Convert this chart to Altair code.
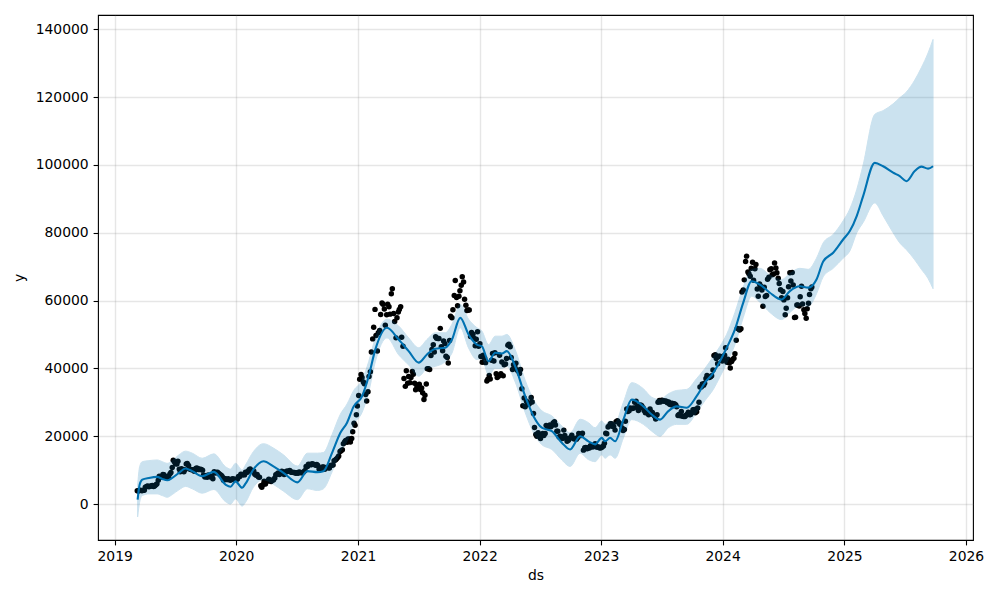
import altair as alt
import pandas as pd

OBS_2019_START = "2019-03-10"
OBS_2019 = [3900, 4000, 3950, 4100, 5200, 5100, 5300, 5200, 5700, 7000, 8000, 8700,
            8100, 7700, 8900, 10800, 12400, 11800, 10300, 10400, 9500, 11800, 11400, 10200,
            10100, 10400, 10500, 10300, 10000, 8000, 7900, 8300, 8200, 9500, 9300, 9000,
            8500, 7000, 7400, 7500, 7000, 7500, 7300]
OBS_2019_MID_START = "2019-03-13"
OBS_2019_MID = [3870, 4050, 4030, 4950, 5300, 5250, 5450, 5350, 5950, 8200, 7950, 8650,
                7800, 8200, 9300, 12900, 11900, 12600, 9500, 9800, 10100, 11950, 10300, 10100,
                9700, 10600, 10150, 10200, 8550, 8350, 8600, 8000, 7450, 9150, 9350, 8750,
                8100, 7550, 7200, 7200, 7300, 7250, 7200]

OBS_2020_START = "2020-01-05"
OBS_2020 = [7400, 8100, 8700, 8600, 9300, 10100, 9900, 9700, 8500, 8000, 5400, 5800,
            5900, 6800, 6900, 7100, 7700, 8900, 8700, 9700, 8700, 9700, 9700, 9400,
            9300, 9100, 9100, 9300, 9200, 9900, 11100, 11700, 11900, 11700, 11700, 10300,
            10300, 10900, 10700, 10700, 11400, 11500, 13000, 13700, 15500, 16000, 18400, 18200,
            19200, 19300, 23800, 26300]
OBS_2020_MID_START = "2020-01-08"
OBS_2020_MID = [8100, 8800, 8650, 9400, 9600, 10350, 9600, 8800, 8750, 7900, 4950, 6700,
                6650, 7300, 6650, 7100, 8650, 9150, 9300, 9500, 9200, 9650, 9900, 9400,
                9300, 9230, 9430, 9200, 9550, 11100, 11750, 11550, 11750, 11450, 11400, 10250,
                10950, 10250, 10780, 10600, 11430, 12800, 13270, 14150, 15700, 17800, 18750, 19200,
                18300, 21300, 23240, 28900]

OBS_2021_START = "2021-01-03"
OBS_2021 = [32000, 38200, 36000, 32300, 33100, 39000, 48700, 57400, 45100, 51200, 59300, 57500,
            55800, 58200, 62000, 56200, 49000, 56600, 58200, 46500, 34700, 35600, 35800, 39100,
            35600, 34600, 35300, 34200, 30800, 35400, 39900, 43800, 47000, 49300, 48800, 51800,
            45200, 47300, 43200, 48200, 54900, 61500, 60900, 61300, 64500, 65500, 58600, 57200,
            49400, 50100, 46700, 50800]
OBS_2021_MID_START = "2021-01-06"
OBS_2021_MID = [36800, 37300, 35500, 30400, 37600, 44800, 52100, 49700, 50500, 55900, 58900, 52700,
                58900, 56000, 63500, 53800, 54900, 57400, 49200, 37000, 39300, 37600, 37300, 38300,
                33700, 35000, 33800, 32800, 32100, 39900, 39700, 45600, 44800, 48900, 48800, 46400,
                48100, 43600, 41600, 55400, 57300, 65900, 58500, 62900, 67000, 60400, 57100, 57200,
                50600, 48900, 48600, 46500]

OBS_2022_START = "2022-01-02"
OBS_2022 = [47300, 41800, 43100, 36300, 37900, 42400, 42200, 38400, 37700, 38400, 37800, 41300,
            46800, 46400, 39700, 40400, 39500, 38500, 34000, 31300, 30300, 29400, 31400, 26700,
            20500, 21000, 19300, 20800, 20800, 22600, 23300, 23200, 24300, 21500, 19800, 19800,
            21800, 19400, 18800, 19600, 19400, 19300, 19600, 20600, 20900, 16600, 16300, 16500,
            17100, 17100, 16800, 16800]
OBS_2022_MID_START = "2022-01-05"
OBS_2022_MID = [43500, 43900, 41700, 36800, 36900, 44400, 44600, 37300, 43900, 41900, 41100, 42900,
                47100, 43200, 41100, 41500, 39200, 39700, 29000, 28700, 29600, 29800, 30100, 22600,
                20000, 20100, 20500, 20200, 23200, 22900, 22800, 23900, 23300, 21500, 20000, 19300,
                20200, 18500, 19400, 20300, 19200, 19100, 20800, 20200, 15900, 16700, 16600, 17200,
                16800, 17800, 16800, 16500]

OBS_2023_START = "2023-01-01"
OBS_2023 = [16600, 17100, 20900, 22700, 23700, 22900, 21800, 24600, 23500, 22400, 22000, 28000,
            27500, 28200, 28300, 30300, 27600, 29200, 28400, 26900, 26800, 28000, 27000, 25900,
            26300, 30500, 30600, 30300, 30300, 30100, 29300, 29100, 29300, 26100, 26000, 25900,
            25800, 26500, 26300, 27000, 27900, 27200, 30000, 34500, 35000, 37000, 37400, 37500,
            39500, 44000, 41400, 43600, 42200]
OBS_2023_MID_START = "2023-01-04"
OBS_2023_MID = [16850, 17900, 20700, 23000, 23700, 22900, 24300, 24200, 23600, 21700, 24400, 27300,
                28300, 28200, 30000, 28800, 28400, 29000, 27600, 27400, 26300, 27200, 26300, 25100,
                30000, 30100, 30500, 30400, 29900, 29400, 29700, 29600, 28700, 26400, 27300, 25800,
                26200, 27100, 26400, 27800, 26900, 28300, 34500, 35400, 35600, 37900, 37300, 37800,
                43800, 42900, 43600, 43400]

OBS_2024_START = "2024-01-07"
OBS_2024 = [43900, 41800, 41600, 42000, 43000, 48300, 51600, 51700, 63100, 71500, 68400, 67200,
            71300, 69400, 63400, 64900, 63100, 63900, 61500, 66900, 69400, 67800, 69600, 66600,
            63200, 62700, 55800, 60800, 68200, 68300, 55000, 58700, 58400, 64200, 57300, 54800,
            59200, 63500]
OBS_2024_MID_START = "2024-01-03"
OBS_2024_MID = [42800, 46100, 42700, 40100, 42600, 44300, 51800, 51300, 62500, 66100, 73100, 67900,
                69500, 66000, 70600, 61300, 64300, 58300, 61200, 66300, 69100, 67600, 71100, 68200,
                65000, 60800, 60200, 57700, 64100, 65800, 64600, 55100, 58700, 61100, 59000, 56200,
                57600, 61800, 64000]

# ---------------- model fit / forecast ----------------
FC_DATES = [
    "2019-03-11", "2019-03-17", "2019-03-25", "2019-04-14", "2019-05-09", "2019-05-24",
    "2019-06-08", "2019-06-23", "2019-07-13", "2019-08-02", "2019-08-22", "2019-09-21",
    "2019-10-26", "2019-11-30", "2019-12-15", "2019-12-30", "2020-01-19", "2020-01-29",
    "2020-02-22", "2020-03-23", "2020-04-22", "2020-05-22", "2020-07-03", "2020-08-02",
    "2020-09-01", "2020-09-19", "2020-10-15", "2020-11-09", "2020-11-29", "2020-12-19",
    "2021-01-13", "2021-02-02", "2021-02-22", "2021-03-29", "2021-05-03", "2021-06-02",
    "2021-07-02", "2021-07-27", "2021-08-21", "2021-09-20", "2021-10-10", "2021-11-04",
    "2021-11-29", "2021-12-24", "2022-01-08", "2022-01-28", "2022-02-17", "2022-03-09",
    "2022-03-24", "2022-04-18", "2022-05-18", "2022-06-12", "2022-07-07", "2022-08-06",
    "2022-09-05", "2022-09-30", "2022-10-30", "2022-11-24", "2022-12-14", "2023-01-03",
    "2023-01-13", "2023-01-28", "2023-02-12", "2023-03-09", "2023-04-03", "2023-05-08",
    "2023-06-02", "2023-06-27", "2023-07-22", "2023-08-16", "2023-09-15", "2023-10-15",
    "2023-11-09", "2023-12-04", "2023-12-24", "2024-01-13", "2024-02-07", "2024-03-03",
    "2024-03-28", "2024-04-22", "2024-05-22", "2024-06-26", "2024-07-21", "2024-08-20",
    "2024-09-14", "2024-10-09", "2024-10-29", "2024-11-28", "2024-12-28", "2025-01-17",
    "2025-02-07", "2025-02-26", "2025-04-02", "2025-04-27", "2025-05-27", "2025-06-16",
    "2025-07-06", "2025-07-31", "2025-08-20", "2025-09-09", "2025-09-24",
]
FC_YHAT = [
    1300, 5700, 7200, 7700, 8000, 7400,
    7000, 7700, 9200, 10500, 9700, 8200,
    9500, 5750, 5100, 6700, 4800, 6000,
    10200, 12600, 11100, 9200, 6400, 9700,
    9400, 9700, 15100, 21000, 24000, 28800,
    31800, 37700, 45600, 52000, 48500, 45100,
    41700, 44100, 45800, 46100, 48500, 54900,
    50000, 47000, 46500, 42100, 44600, 44400,
    45100, 40600, 31800, 25900, 22500, 21500,
    18100, 16100, 20000, 18500, 17600, 19500,
    18500, 19500, 18500, 24900, 30800, 28800,
    26400, 24900, 27400, 28800, 28400, 31800,
    35800, 38700, 42100, 46000, 51500, 59400,
    65700, 64700, 62300, 60300, 62800, 64200,
    63800, 66200, 71500, 74100, 78000, 80500,
    85000, 90800, 100600, 99600, 97700, 96700,
    95200, 98200, 99500, 98900, 99600,
]
FC_LOWER = [
    -3800, 500, 2500, 3000, 3000, 2500,
    2000, 2800, 4200, 5200, 4500, 3200,
    4300, 700, 0, 1500, -600, 500,
    5000, 7200, 5800, 3800, 1300, 4500,
    4000, 4500, 9500, 15500, 18500, 23500,
    27000, 33000, 42000, 49000, 44000, 41000,
    37700, 40000, 40600, 42000, 44500, 52000,
    46000, 42600, 43000, 38000, 40000, 40000,
    40600, 36000, 27000, 21000, 17500, 16100,
    13000, 11100, 15000, 13100, 12500, 14500,
    13500, 14500, 13500, 19500, 24900, 23500,
    21500, 20000, 22500, 23500, 23500, 27000,
    30500, 33800, 37500, 41500, 47000, 55000,
    61300, 59500, 56500, 54400, 56500, 58500,
    58300, 62000, 67000, 69500, 72500, 74600,
    80000, 83000, 88800, 85000, 80000, 77000,
    75000, 72000, 69200, 66500, 63500,
]
FC_UPPER = [
    5500, 11000, 12500, 12800, 13000, 12500,
    12000, 12800, 14500, 15600, 15000, 13500,
    14800, 11000, 10300, 12000, 10000, 11500,
    15500, 17800, 16500, 14500, 11200, 15000,
    15000, 15200, 20500, 26500, 29500, 33500,
    36500, 42000, 49000, 54500, 52500, 49000,
    46100, 48500, 50500, 50500, 53000, 58900,
    54500, 52000, 51000, 47000, 49500, 49500,
    50000, 45500, 36500, 30800, 27500, 26000,
    23000, 21000, 25000, 24000, 22500, 24500,
    23500, 24500, 24000, 30000, 35800, 34000,
    31500, 30800, 32500, 33500, 33800, 37000,
    40000, 43500, 46500, 50000, 56500, 64000,
    69200, 69500, 67500, 66200, 68000, 69500,
    69200, 72500, 77000, 79500, 83500, 87000,
    92800, 100000, 114900, 116000, 118000, 119800,
    121500, 125000, 128700, 133000, 137000,
]

Y_TICKS = [0, 20000, 40000, 60000, 80000, 100000, 120000, 140000]
YEAR_TICKS = [2019, 2020, 2021, 2022, 2023, 2024, 2025, 2026]

# ---------------- tables ----------------
obs_parts = []
for start, vals in [(OBS_2019_START, OBS_2019), (OBS_2019_MID_START, OBS_2019_MID),
                    (OBS_2020_START, OBS_2020), (OBS_2020_MID_START, OBS_2020_MID),
                    (OBS_2021_START, OBS_2021), (OBS_2021_MID_START, OBS_2021_MID),
                    (OBS_2022_START, OBS_2022), (OBS_2022_MID_START, OBS_2022_MID),
                    (OBS_2023_START, OBS_2023), (OBS_2023_MID_START, OBS_2023_MID),
                    (OBS_2024_START, OBS_2024), (OBS_2024_MID_START, OBS_2024_MID)]:
    obs_parts.append(pd.DataFrame({
        "ds": pd.date_range(start, periods=len(vals), freq="7D"),
        "y": vals,
    }))
obs = pd.concat(obs_parts, ignore_index=True).sort_values("ds")

fc = pd.DataFrame({
    "ds": pd.to_datetime(FC_DATES),
    "yhat": FC_YHAT,
    "yhat_lower": FC_LOWER,
    "yhat_upper": FC_UPPER,
})

FONT = "DejaVu Sans"
FS = 13.9
BLUE = "#0072B2"

x_scale = alt.Scale(domain=[alt.DateTime(year=2018, month=11, date=12),
                            alt.DateTime(year=2026, month=1, date=22)])
y_scale = alt.Scale(domain=[-10600, 144200], nice=False, zero=False)

common_axis = dict(
    labelFont=FONT, labelFontSize=FS, labelColor="black",
    titleFont=FONT, titleFontSize=FS, titleColor="black", titleFontWeight="normal",
    grid=True, gridColor="gray", gridOpacity=0.2, gridWidth=1.4,
    tickColor="black", tickSize=4.9, tickWidth=1.1, labelPadding=4.9,
    domain=False, labelFlush=False, labelOverlap=False,
)

x_axis = alt.Axis(
    values=[alt.DateTime(year=y, month=1, date=1) for y in YEAR_TICKS],
    format="%Y", title="ds", titlePadding=5, **common_axis,
)
y_axis = alt.Axis(values=Y_TICKS, format="d", title="y", titlePadding=9, **common_axis)

points = alt.Chart(obs).mark_circle(color="black", size=30, opacity=1).encode(
    x=alt.X("ds:T", scale=x_scale, axis=x_axis),
    y=alt.Y("y:Q", scale=y_scale, axis=y_axis),
)

line = alt.Chart(fc).mark_line(color=BLUE, strokeWidth=2.1, interpolate="monotone").encode(
    x=alt.X("ds:T", scale=x_scale),
    y=alt.Y("yhat:Q", scale=y_scale),
)

band = alt.Chart(fc).mark_area(
    color=BLUE, opacity=0.2, interpolate="monotone",
    stroke=BLUE, strokeWidth=1, strokeOpacity=1,
).encode(
    x=alt.X("ds:T", scale=x_scale),
    y=alt.Y("yhat_lower:Q", scale=y_scale),
    y2="yhat_upper:Q",
)

chart = alt.layer(points, line, band).properties(
    width=875, height=525,
    background="white",
    autosize=alt.AutoSizeParams(type="none"),
    padding={"left": 98, "top": 15, "right": 27, "bottom": 60},
).configure_view(
    stroke="black", strokeWidth=1.1,
)

chart.save("out.html", embed_options={"renderer": "svg", "actions": False})
